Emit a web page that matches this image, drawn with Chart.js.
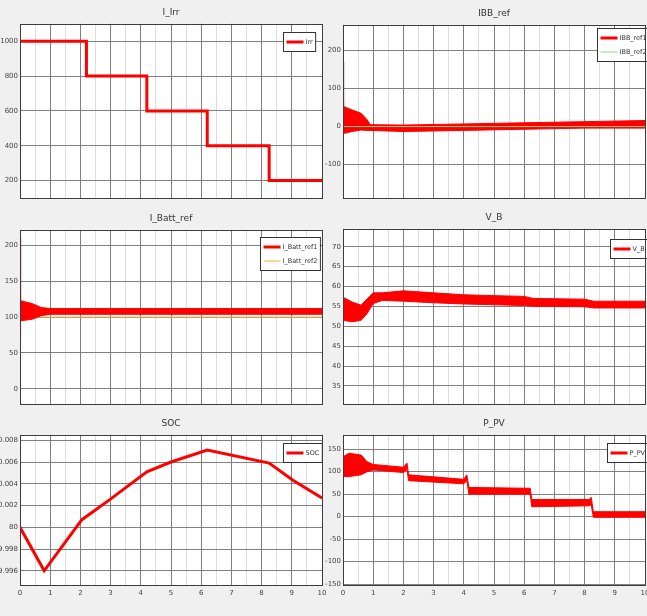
<!DOCTYPE html>
<html>
<head>
<meta charset="utf-8">
<script src="https://cdn.jsdelivr.net/npm/chart.js@4.4.1/dist/chart.umd.min.js"></script>
<style>
  html, body { margin: 0; padding: 0; background: #f0f0f0; }
  body { width: 647px; height: 616px; position: relative; overflow: hidden; }
  canvas { position: absolute; }
</style>
</head>
<body>
<canvas id="c1" width="325" height="205" style="left:0;top:0"></canvas>
<canvas id="c2" width="324" height="205" style="left:323px;top:0"></canvas>
<canvas id="c3" width="325" height="205" style="left:0;top:205px"></canvas>
<canvas id="c4" width="324" height="205" style="left:323px;top:205px"></canvas>
<canvas id="c5" width="331" height="206" style="left:0;top:410px"></canvas>
<canvas id="c6" width="332" height="206" style="left:323px;top:410px"></canvas>
<script>
// time axis (s) shared by all scopes
const xMajor = [0, 1, 2, 3, 4, 5, 6, 7, 8, 9, 10];

// irradiance steps
const irrTime = [0, 2.2, 4.2, 6.2, 8.25, 10];
const irrValue = [1000, 800, 600, 400, 200, 200];
const irrTicks = [200, 400, 600, 800, 1000];

// IBB_ref: the noisy trace is kept as an upper / lower envelope
const ibbTime = [0, 0.02, 0.3, 0.6, 0.8, 0.9, 2, 4, 6, 8, 10];
const ibbUpper = [170, 53, 44, 35, 18, 5, 4, 7, 10, 13, 16];
const ibbLower = [-20, -18, -13, -9, -10, -10, -13, -10, -7, -4, -4];
const ibbRefTime = [0, 10];
const ibbRefValue = [0, 0];
const ibbTicks = [-100, 0, 100, 200];

// I_Batt_ref
const batTime = [0, 0.02, 0.4, 0.7, 1.0, 3, 6, 10];
const batUpper = [210, 123, 119, 113.5, 112, 112, 112, 112];
const batLower = [70, 95, 97, 102, 104, 104, 104, 104];
const batRefTime = [0, 10];
const batRefValue = [100, 100];
const batTicks = [0, 50, 100, 150, 200];

// V_B
const vbTime = [0, 0.3, 0.6, 0.8, 1.0, 1.3, 2.0, 3.0, 4.0, 6.0, 6.3, 8.0, 8.3, 10];
const vbUpper = [57.3, 56.1, 55.3, 56.9, 58.4, 58.4, 58.9, 58.4, 57.9, 57.5, 57.0, 56.8, 56.3, 56.3];
const vbLower = [51.5, 51.1, 51.5, 53.2, 55.7, 56.5, 56.3, 55.9, 55.6, 55.2, 55.0, 54.9, 54.6, 54.6];
const vbTicks = [35, 40, 45, 50, 55, 60, 65, 70];

// SOC
const socTime = [0, 0.8, 2.05, 2.95, 4.2, 5.0, 6.2, 8.25, 9.05, 10];
const socValue = [80.0, 79.996, 80.0007, 80.0025, 80.0051, 80.006, 80.0071, 80.0059, 80.0043, 80.0027];
const socTicks = [79.996, 79.998, 80, 80.002, 80.004, 80.006, 80.008];
const socTickLabels = ['79.996', '79.998', '80', '80.002', '80.004', '80.006', '80.008'];

// P_PV
const pvTime = [0, 0.2, 0.6, 0.8, 1.0, 2.0, 2.12, 2.17, 4.0, 4.1, 4.17, 6.2, 6.25, 8.15, 8.22, 8.29, 10];
const pvUpper = [133, 141, 137, 122, 116, 110, 119, 93, 83, 93, 65, 63, 38, 38, 43, 11, 11];
const pvLower = [89, 89, 93, 100, 104, 98, 105, 80, 73, 80, 50, 50, 22, 24, 26, -1.5, -1.5];
const pvTicks = [-150, -100, -50, 0, 50, 100, 150];

const RED = '#ff0000';
const DARK = '#5a1c1c';
const FONT = 'DejaVu Sans';

const pts = (xs, ys) => xs.map((x, i) => ({ x, y: ys[i] }));

// white plot area + dark frame, like the scope window
const scopeFrame = {
  id: 'scopeFrame',
  beforeDraw(chart) {
    const a = chart.chartArea, ctx = chart.ctx;
    ctx.save();
    ctx.fillStyle = '#ffffff';
    ctx.fillRect(a.left, a.top, a.right - a.left, a.bottom - a.top);
    ctx.restore();
  },
  afterDraw(chart) {
    const a = chart.chartArea, ctx = chart.ctx;
    ctx.save();
    ctx.strokeStyle = '#3c3c3c';
    ctx.lineWidth = 1;
    ctx.strokeRect(Math.round(a.left) + 0.5, Math.round(a.top) + 0.5,
      Math.round(a.right - a.left), Math.round(a.bottom - a.top));
    ctx.restore();
  }
};

// matlab-style legend box inside the axes
const scopeLegend = {
  id: 'scopeLegend',
  afterDatasetsDraw(chart, args, opts) {
    if (!opts.items) return;
    const a = chart.chartArea, ctx = chart.ctx;
    ctx.save();
    ctx.font = '6.5px "' + FONT + '"';
    const rowH = 14;
    const textW = Math.max(...opts.items.map(it => ctx.measureText(it.label).width));
    const w = 22 + textW + 3;
    const h = opts.items.length * rowH + 5;
    const x = Math.round(a.left + opts.x) + 0.5;
    const y = Math.round(a.top + opts.y) + 0.5;
    ctx.fillStyle = '#ffffff';
    ctx.fillRect(x, y, w, h);
    ctx.strokeStyle = '#333333';
    ctx.lineWidth = 1;
    ctx.strokeRect(x, y, w, h);
    opts.items.forEach((it, i) => {
      const cy = y + 2.5 + rowH * i + rowH / 2;
      ctx.strokeStyle = it.color;
      ctx.lineWidth = it.width;
      ctx.beginPath();
      ctx.moveTo(x + 3, cy);
      ctx.lineTo(x + 20, cy);
      ctx.stroke();
      ctx.fillStyle = '#333333';
      ctx.textBaseline = 'middle';
      ctx.fillText(it.label, x + 22, cy);
    });
    ctx.restore();
  }
};

function xGridTicks() {
  const t = [];
  xMajor.forEach((v, i) => {
    t.push({ value: v, lbl: String(v), major: true });
    if (i < xMajor.length - 1) t.push({ value: (v + xMajor[i + 1]) / 2, lbl: '', major: false });
  });
  return t;
}

function yGridTicks(values, labels) {
  return values.map((v, i) => ({ value: v, lbl: labels ? labels[i] : String(v), major: true }));
}

function makeScope(id, o) {
  return new Chart(document.getElementById(id), {
    type: 'line',
    data: { datasets: o.datasets },
    plugins: [scopeFrame, scopeLegend],
    options: {
      responsive: false,
      animation: false,
      layout: { padding: { top: o.padTop, bottom: o.padBottom, left: 0, right: o.padRight } },
      elements: { point: { radius: 0 }, line: { tension: 0 } },
      plugins: {
        legend: { display: false },
        tooltip: { enabled: false },
        title: {
          display: true, fullSize: false, text: o.title, color: '#333333',
          font: { size: 9, family: FONT, weight: 'normal' }, padding: { top: 6, bottom: 6 }
        },
        scopeLegend: o.legend
      },
      scales: {
        x: {
          type: 'linear', min: 0, max: 10,
          afterBuildTicks: s => { s.ticks = xGridTicks(); },
          afterFit: s => { s.height = o.xHeight; },
          ticks: {
            display: o.xLabels, autoSkip: false, maxRotation: 0, padding: 4,
            color: '#444444', font: { size: 7, family: FONT },
            callback: (v, i, t) => t[i].lbl
          },
          grid: {
            drawTicks: false,
            color: c => (c.tick && c.tick.major ? '#808080' : '#dcdcdc')
          },
          border: { display: false }
        },
        y: {
          type: 'linear', min: o.yMin, max: o.yMax,
          afterBuildTicks: s => { s.ticks = yGridTicks(o.yTicks, o.yLabels); },
          afterFit: s => { s.width = 20; },
          ticks: {
            autoSkip: false, padding: 2, color: '#444444',
            font: { size: 7, family: FONT },
            callback: (v, i, t) => t[i].lbl
          },
          grid: { drawTicks: false, color: '#808080' },
          border: { display: false }
        }
      }
    }
  });
}

function band(xs, up, lo) {
  return [
    { data: pts(xs, up), borderColor: RED, borderWidth: 1, backgroundColor: RED, fill: false },
    { data: pts(xs, lo), borderColor: RED, borderWidth: 1, backgroundColor: RED, fill: '-1' }
  ];
}

// row 1
makeScope('c1', {
  title: 'I_Irr', padTop: 1, padBottom: 5, padRight: 3, xHeight: 2, xLabels: false,
  yMin: 100, yMax: 1100, yTicks: irrTicks,
  datasets: [
    { label: 'Irr', data: pts(irrTime, irrValue), stepped: 'before', borderColor: RED, borderWidth: 3 },
    { data: pts(irrTime, irrValue), stepped: 'before', borderColor: DARK, borderWidth: 1 }
  ],
  legend: { x: 263, y: 8, items: [{ label: 'Irr', color: RED, width: 3 }] }
});

makeScope('c2', {
  title: 'IBB_ref', padTop: 2, padBottom: 5, padRight: 2, xHeight: 2, xLabels: false,
  yMin: -188, yMax: 268, yTicks: ibbTicks,
  datasets: [
    { label: 'IBB_ref2', data: pts(ibbRefTime, ibbRefValue), borderColor: '#8fcf8f', borderWidth: 1 },
    ...band(ibbTime, ibbUpper, ibbLower)
  ],
  legend: { x: 254, y: 3, items: [
    { label: 'IBB_ref1', color: RED, width: 3 },
    { label: 'IBB_ref2', color: '#8fcf8f', width: 1 }
  ] }
});

// row 2
makeScope('c3', {
  title: 'I_Batt_ref', padTop: 2, padBottom: 3, padRight: 3, xHeight: 2, xLabels: false,
  yMin: -21, yMax: 222, yTicks: batTicks,
  datasets: [
    ...band(batTime, batUpper, batLower),
    { label: 'I_Batt_ref2', data: pts(batRefTime, batRefValue), borderColor: '#efb52c', borderWidth: 1 }
  ],
  legend: { x: 240, y: 7, items: [
    { label: 'I_Batt_ref1', color: RED, width: 3 },
    { label: 'I_Batt_ref2', color: '#efb52c', width: 1 }
  ] }
});

makeScope('c4', {
  title: 'V_B', padTop: 1, padBottom: 4, padRight: 2, xHeight: 2, xLabels: false,
  yMin: 30.5, yMax: 74.5, yTicks: vbTicks,
  datasets: band(vbTime, vbUpper, vbLower),
  legend: { x: 267, y: 10, items: [{ label: 'V_B', color: RED, width: 3 }] }
});

// row 3
makeScope('c5', {
  title: 'SOC', padTop: 2, padBottom: 15, padRight: 9, xHeight: 16, xLabels: true,
  yMin: 79.9947, yMax: 80.0085, yTicks: socTicks, yLabels: socTickLabels,
  datasets: [
    { label: 'SOC', data: pts(socTime, socValue), borderColor: RED, borderWidth: 3 },
    { data: pts(socTime, socValue), borderColor: DARK, borderWidth: 1 }
  ],
  legend: { x: 263, y: 8, items: [{ label: 'SOC', color: RED, width: 3 }] }
});

makeScope('c6', {
  title: 'P_PV', padTop: 2, padBottom: 15, padRight: 10, xHeight: 16, xLabels: true,
  yMin: -152, yMax: 182, yTicks: pvTicks,
  datasets: band(pvTime, pvUpper, pvLower),
  legend: { x: 264, y: 8, items: [{ label: 'P_PV', color: RED, width: 3 }] }
});
</script>
</body>
</html>
